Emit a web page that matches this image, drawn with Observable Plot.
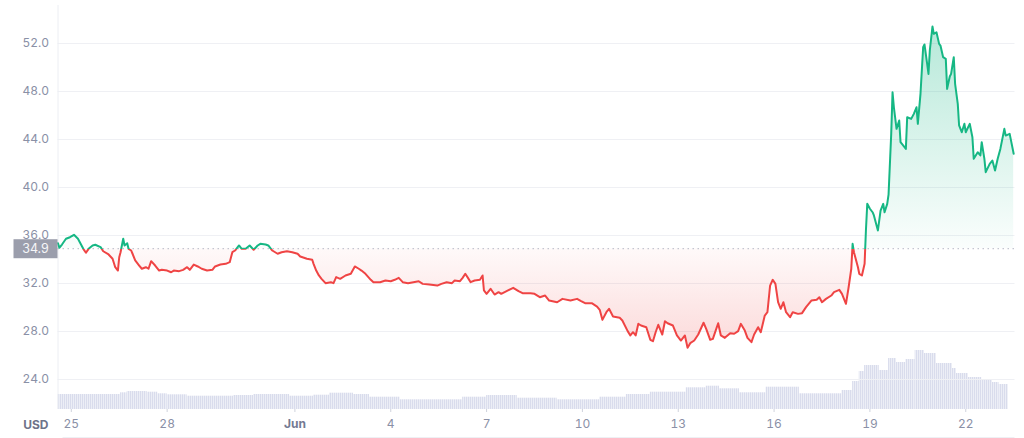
<!DOCTYPE html>
<html><head><meta charset="utf-8">
<script src="https://cdn.jsdelivr.net/npm/d3@7"></script>
<script src="https://cdn.jsdelivr.net/npm/@observablehq/plot@0.6"></script>
<style>
html,body{margin:0;padding:0;background:#fff;}
#wrap{position:relative;width:1024px;height:438px;font-family:Inter,sans-serif;overflow:hidden;}
#wrap svg{position:absolute;left:0;top:0;overflow:visible;}
</style></head><body><div id="wrap"></div>
<script>
// ---- data ----
const START = "2023-05-25T00:00:00Z";
const BASELINE = 34.9;
// hours since START for each price reading
const PRICE_HOURS = [-10,-9,-7,-4,-1,2,5,7,9,11,13,16,18,22,24,28,31,33,35,36,37,39,40,42,43,45,46,48,51,53,56,58,60,63,66,68,72,75,77,81,84,87,89,92,95,98,102,106,108,112,116,119,121,123,126,128,131,134,137,140,142,146,148,151,155,158,162,166,170,172,177,181,182,184,186,188,191,195,197,199,202,206,210,213,216,218,221,225,227,232,236,240,243,246,249,253,257,261,264,269,275,278,282,286,288,292,294,296,298,300,303,307,309,310,312,315,318,321,323,327,332,336,339,345,348,352,356,359,365,369,375,380,383,386,391,395,397,399,402,404,407,412,414,418,420,422,424,426,428,432,435,437,439,441,444,446,448,452,455,458,461,463,465,468,471,475,477,480,482,485,486,488,491,495,498,501,503,506,508,511,513,516,518,521,523,525,527,529,531,533,535,537,540,542,546,549,552,556,560,562,564,567,571,573,577,579,582,584,586,587,588,591,592,594,596,597,598,600,602,603,606,608,610,611,613,614,616,617,618,620,622,623,626,627,628,631,633,635,636,638,640,641,643,644,645,647,648,650,652,653,655,657,658,660,661,663,664,666,667,669,671,672,675,677,678,681,683,684,686,687,690,692,694,696,698,701,702,705,708];
const PRICE = [35.36,34.98,35.25,35.73,35.86,36.06,35.73,35.31,34.89,34.56,34.89,35.17,35.23,35.03,34.69,34.42,34.06,33.36,33.08,34.19,34.61,35.73,35.17,35.36,34.89,34.75,34.48,33.92,33.5,33.23,33.36,33.23,33.86,33.5,33.08,33.14,33.08,32.94,33.08,33.03,33.14,33.36,33.14,33.58,33.42,33.23,33.08,33.14,33.42,33.58,33.64,33.78,34.61,34.75,35.17,34.89,34.89,35.17,34.81,35.17,35.31,35.25,35.17,34.75,34.48,34.61,34.69,34.61,34.48,34.25,34.06,33.98,33.64,33.08,32.67,32.39,32.03,32.11,32.03,32.53,32.39,32.67,32.81,33.42,33.23,33.08,32.81,32.31,32.11,32.11,32.25,32.19,32.31,32.47,32.11,32.03,32.11,32.19,31.97,31.92,31.83,31.97,32.11,32.03,32.25,32.19,32.47,32.81,32.47,32.11,32.25,32.31,32.67,31.42,31.14,31.56,31.08,31.28,31.14,31.36,31.64,31.36,31.19,31.19,31.14,30.86,31.0,30.58,30.44,30.72,30.58,30.72,30.53,30.36,30.36,30.08,29.81,28.97,29.61,29.89,29.25,29.14,28.92,28.03,27.67,27.94,27.67,28.64,28.5,28.36,27.31,27.19,27.94,28.56,27.75,28.86,28.69,28.5,27.67,27.25,27.67,26.64,27.03,27.25,27.75,28.73,28.22,27.31,27.39,28.36,28.69,27.67,27.47,27.86,27.81,28.03,28.64,28.08,27.47,27.11,27.75,28.36,27.94,29.33,29.61,31.83,32.31,31.97,30.44,29.89,30.44,29.61,29.19,29.61,29.47,29.53,30.03,30.58,30.64,30.86,30.44,30.72,31.0,31.28,31.47,31.14,30.31,31.69,33.23,35.31,34.61,33.36,32.81,32.67,33.64,36.42,38.64,38.23,37.94,37.67,36.42,38.08,38.64,37.94,38.64,39.4,44.47,47.94,46.69,44.89,45.58,43.78,43.36,43.22,45.86,45.72,46.14,46.69,45.31,47.81,51.69,51.92,50.31,49.47,51.42,53.42,52.81,52.94,51.97,51.83,50.86,50.72,48.22,49.25,49.47,50.86,48.64,46.97,45.17,44.61,45.31,44.61,45.31,44.19,42.39,42.94,42.67,43.78,42.39,41.28,41.97,42.25,41.42,42.39,43.22,44.89,44.33,44.47,42.81];
// volume: segment boundaries (hours since START) and bar heights (relative units)
const VOL_HOURS = [-10,37,42,57,65,72,87,122,137,164,182,194,212,224,247,294,312,335,365,397,417,435,462,477,487,502,522,547,579,587,592,596,607,614,620,627,634,641,650,662,665,674,684,692,697,704,709];
const VOLUME = [15,16.7,18,17.3,15.7,14.7,13.3,14,15,13.3,14.3,16.3,15,12.3,9.7,12.3,14,11.3,9.7,12.3,15,17.3,21.7,23.3,20.7,16.7,22.3,15.7,19,28,38,44,39,51,47,50,59,56,46,41,36,32,29,27,25];
const Y_TICKS = [24,28,32,36,40,44,48,52];
const X_TICK_DATES = ["2023-05-25","2023-05-28","2023-06-01","2023-06-04","2023-06-07","2023-06-10","2023-06-13","2023-06-16","2023-06-19","2023-06-22"];
const X_TICK_LABELS = ["25","28","Jun","4","7","10","13","16","19","22"];
const CURRENCY = "USD";

// ---- build ----
const t0 = Date.parse(START);
const toDate = h => new Date(t0 + h * 3600e3);
const priceData = PRICE_HOURS.map((h, i) => ({t: toDate(h), v: PRICE[i]}));
const volData = VOLUME.map((v, i) => ({t1: toDate(VOL_HOURS[i]), t2: toDate(VOL_HOURS[i + 1]), v}));
const xTicks = X_TICK_DATES.map(s => new Date(s + "T00:00:00Z"));
const labelOf = new Map(xTicks.map((d, i) => [+d, X_TICK_LABELS[i]]));
const xDomain = [toDate(-10), toDate(709)];

const GREEN = "#16b784", RED = "#ef4444";
const W = 1024, H = 438;
const common = {width: W, height: H, marginLeft: 57.5, marginRight: 9.5};

const vol = Plot.plot({
  ...common, marginTop: 309, marginBottom: 29,
  style: {background: "transparent"},
  x: {type: "utc", domain: xDomain, axis: null},
  y: {domain: [0, 100], axis: null},
  marks: [Plot.rectY(volData, {x1: "t1", x2: "t2", y: "v", fill: "url(#volStripes)"})]
});
d3.select(vol).insert("defs", ":first-child").html(
  `<pattern id="volStripes" patternUnits="userSpaceOnUse" width="2" height="20">
     <rect width="2" height="20" fill="#eceef6"/><rect width="1" height="20" fill="#d9dcec"/>
   </pattern>`);

const price = Plot.plot({
  ...common, marginTop: 5, marginBottom: 29,
  style: {background: "transparent", fontFamily: "Inter, sans-serif", fontSize: "12px", color: "#8a90a6"},
  x: {type: "utc", domain: xDomain},
  y: {domain: [21.5, 55.17]},
  marks: [
    Plot.gridY(Y_TICKS, {stroke: "#eff0f4", strokeOpacity: 1}),
    Plot.ruleX([xDomain[0]], {stroke: "#eceef3"}),
    Plot.axisY(Y_TICKS, {tickSize: 0, tickPadding: 9, tickFormat: d => d.toFixed(1), label: null}),
    Plot.axisX(xTicks, {tickSize: 3, tickPadding: 7, tickFormat: d => labelOf.get(+d), label: null}),
    Plot.areaY(priceData, {x: "t", y1: () => BASELINE, y2: "v", fill: "url(#areaGrad)"}),
    Plot.ruleY([BASELINE], {stroke: "#b4b8c6", strokeDasharray: "1.5,3.5"}),
    Plot.line(priceData, {x: "t", y: "v", stroke: "url(#lineGrad)", strokeWidth: 2, strokeLinejoin: "round"})
  ]
});

const ys = price.scale("y");
const xs = price.scale("x");
const by = ys.apply(BASELINE);
const topY = ys.apply(55.17), botY = ys.apply(21.5);
const off = y => (y / H).toFixed(4);
const svg = d3.select(price);
svg.insert("defs", ":first-child").html(`
  <linearGradient id="lineGrad" gradientUnits="userSpaceOnUse" x1="0" y1="0" x2="0" y2="${H}">
    <stop offset="0" stop-color="${GREEN}"/><stop offset="${off(by)}" stop-color="${GREEN}"/>
    <stop offset="${off(by)}" stop-color="${RED}"/><stop offset="1" stop-color="${RED}"/>
  </linearGradient>
  <linearGradient id="areaGrad" gradientUnits="userSpaceOnUse" x1="0" y1="0" x2="0" y2="${H}">
    <stop offset="${off(topY + 30)}" stop-color="${GREEN}" stop-opacity="0.30"/>
    <stop offset="${off(by)}" stop-color="${GREEN}" stop-opacity="0.02"/>
    <stop offset="${off(by)}" stop-color="${RED}" stop-opacity="0.03"/>
    <stop offset="${off(ys.apply(27))}" stop-color="${RED}" stop-opacity="0.19"/>
    <stop offset="${off(botY)}" stop-color="${RED}" stop-opacity="0.24"/>
  </linearGradient>`);

// style axes
svg.selectAll('[aria-label="x-axis tick"]').attr("stroke", "#cfd2dc");
svg.selectAll('[aria-label="x-axis tick label"] text').each(function() {
  if (this.textContent === "Jun") d3.select(this).attr("font-weight", 700).attr("fill", "#747a92");
});

// bottom border line
const [rx0, rx1] = xs.range;
svg.append("line").attr("x1", rx0 + 5).attr("x2", rx1).attr("y1", H - 0.5).attr("y2", H - 0.5)
  .attr("stroke", "#eef0f4");

// currency label
svg.append("text").attr("x", 48.5).attr("y", botY + 19.5).attr("text-anchor", "end")
  .attr("font-weight", 700).attr("fill", "#6e7389").attr("font-size", 12).text(CURRENCY);

// baseline price label box
const g = svg.append("g");
g.append("rect").attr("x", 13.5).attr("y", by - 9).attr("width", 44).attr("height", 19).attr("fill", "#9b9eac");
g.append("text").attr("x", 35.5).attr("y", by + 0.5).attr("dy", "0.35em").attr("text-anchor", "middle")
  .attr("fill", "#f6f6f8").attr("font-size", 12.5).text(BASELINE.toFixed(1));

const wrap = document.getElementById("wrap");
wrap.appendChild(vol);
wrap.appendChild(price);
</script>
</body></html>
